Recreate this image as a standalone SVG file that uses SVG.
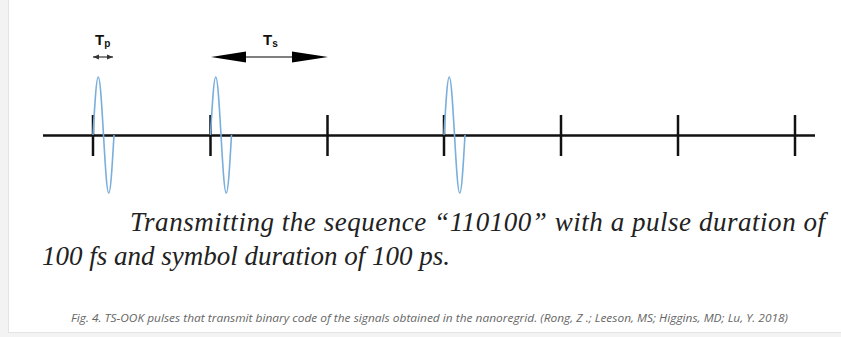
<svg xmlns="http://www.w3.org/2000/svg" xmlns:xlink="http://www.w3.org/1999/xlink" width="841" height="337" viewBox="0 0 841 337">
<style>
.axis{stroke:#111;stroke-width:2.5;fill:none}
.tick{stroke:#111;stroke-width:2.5}
.pulse{stroke:#7aaedb;stroke-width:1.6;fill:none}
.lbl{font-family:"Liberation Sans",Arial,sans-serif;font-weight:bold;font-size:15px;fill:#111}
.main{font-family:"Liberation Serif","Times New Roman",serif;font-style:italic;font-size:27px;fill:#222}
.cap{font-family:"Open Sans","Noto Sans",sans-serif;font-style:italic;font-size:10.5px;fill:#666}
</style>
<defs>
<path id="pulseShape" class="pulse" d="M0,0 c1.755,-30.46 3.357,-58 5.25,-58 c1.893,0 3.495,27.54 5.25,58 c1.755,30.46 3.357,58 5.25,58 c1.893,0 3.495,-27.54 5.25,-58"/>
<marker id="smallHead" viewBox="0 0 6 6" refX="6" refY="3" markerWidth="6" markerHeight="6" markerUnits="userSpaceOnUse" orient="auto-start-reverse">
<path d="M0,0.5 L6,3 L0,5.5 z" fill="#333"/>
</marker>
</defs>
<rect x="0" y="0" width="841" height="337" fill="#f3f3f3"/>
<rect x="8.5" y="-2" width="840" height="334.5" fill="#fff" stroke="#e4e4e4" stroke-width="1"/>
<g id="connectors">
<line class="axis" x1="43" y1="135.5" x2="815" y2="135.5"/>
<line id="tp-arrow" x1="93" y1="57" x2="113" y2="57" stroke="#333" stroke-width="1.2" marker-start="url(#smallHead)" marker-end="url(#smallHead)"/>
<g id="ts-arrow">
<line x1="240" y1="57" x2="298" y2="57" stroke="#555" stroke-width="1.6"/>
<path d="M211,57 L246,51.5 L246,62.5 z" fill="#000"/>
<path d="M328,57 L292,51.5 L292,62.5 z" fill="#000"/>
</g>
</g>
<g id="ticks">
<line class="tick" x1="93" y1="115" x2="93" y2="156"/>
<line class="tick" x1="210.5" y1="115" x2="210.5" y2="156"/>
<line class="tick" x1="327.5" y1="115" x2="327.5" y2="156"/>
<line class="tick" x1="444" y1="115" x2="444" y2="156"/>
<line class="tick" x1="561" y1="115" x2="561" y2="156"/>
<line class="tick" x1="678" y1="115" x2="678" y2="156"/>
<line class="tick" x1="795" y1="115" x2="795" y2="156"/>
</g>
<g id="pulses">
<use id="pulse1" xlink:href="#pulseShape" href="#pulseShape" x="93" y="135"/>
<use id="pulse2" xlink:href="#pulseShape" href="#pulseShape" x="210.5" y="135"/>
<use id="pulse3" xlink:href="#pulseShape" href="#pulseShape" x="444" y="135"/>
</g>
<g id="labels">
<text class="lbl" x="95" y="45">T<tspan font-size="10" dy="2">p</tspan></text>
<text class="lbl" x="263" y="45">T<tspan font-size="10" dy="2">s</tspan></text>
</g>
<g id="description">
<text class="main" x="130" y="231" textLength="695" lengthAdjust="spacing">Transmitting the sequence “110100” with a pulse duration of</text>
<text class="main" x="42" y="265">100 fs and symbol duration of 100 ps.</text>
</g>
<text id="caption" class="cap" x="71" y="322" textLength="717" lengthAdjust="spacingAndGlyphs">Fig. 4. TS-OOK pulses that transmit binary code of the signals obtained in the nanoregrid. (Rong, Z .; Leeson, MS; Higgins, MD; Lu, Y. 2018)</text>
</svg>
